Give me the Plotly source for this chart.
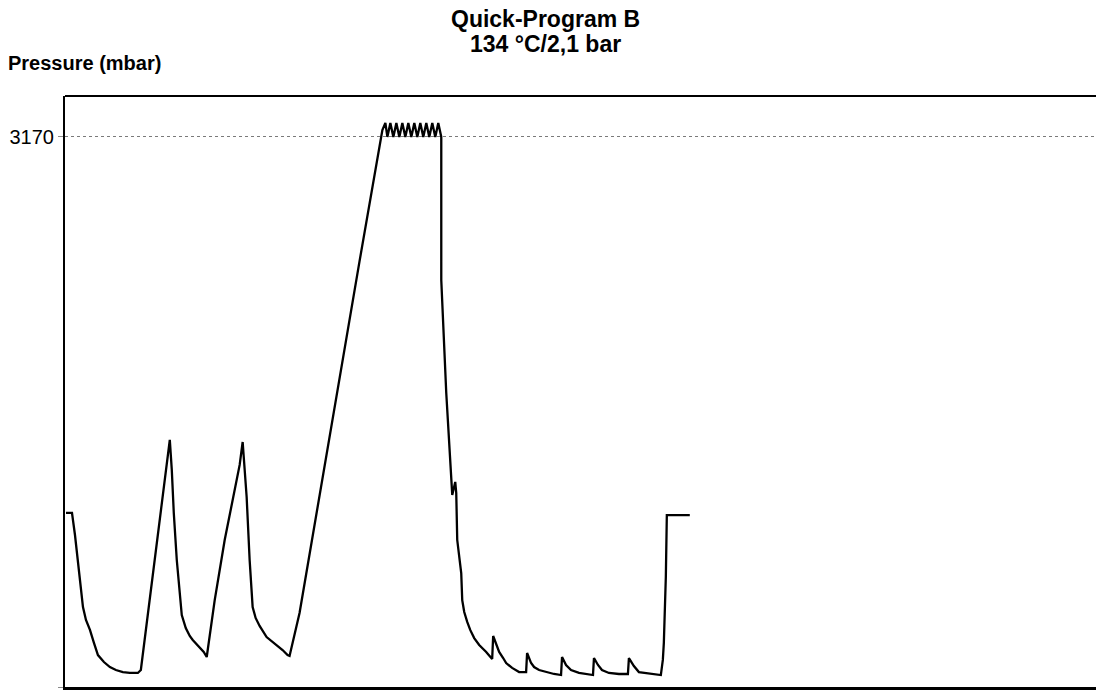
import plotly.graph_objects as go

# Time (arbitrary units, no scale shown in the reference) and pressure (mbar)
# -- first three pulses (pre-vacuum phases)
time_pulses = [0, 6, 9, 12, 14, 17, 20, 24, 28, 32, 38, 44, 50, 57, 64, 72, 75,
               84, 94, 104,
               106, 108, 111, 114, 116, 120, 124, 127, 131, 134, 138, 141,
               149, 159, 169, 174, 177,
               179, 181, 184, 187, 190, 194, 201, 206, 211, 217, 222, 224,
               234, 251, 274, 294, 317]
press_pulses = [1003, 1003, 876, 715, 588, 461, 386, 329, 254, 184, 144, 115, 98, 86, 81, 81, 98,
                501, 963, 1424,
                1251, 1003, 732, 530, 415, 340, 294, 271, 248, 231, 202, 173,
                501, 847, 1135, 1280, 1412,
                1251, 1095, 732, 461, 398, 352, 288, 265, 242, 213, 184, 179,
                427, 1003, 1769, 2450, 3210]

# -- sterilisation plateau
time_plateau = [320, 322, 325, 328, 331, 334, 337, 340, 343, 346,
                349, 352, 355, 358, 361, 364, 367, 370, 373, 376]
press_plateau = [3251, 3170, 3251, 3170, 3251, 3170, 3251, 3170, 3251, 3170,
                 3251, 3170, 3251, 3170, 3251, 3170, 3251, 3170, 3251, 3170]

# -- release and drying pulses, then venting
time_drying = [376, 381, 386, 387, 390, 391, 392, 396, 397, 399, 402, 405, 409, 414, 421, 427,
               428, 431, 434, 438, 441, 447, 454, 461,
               462, 466, 469, 474, 481, 489, 496,
               497, 501, 506, 514, 521, 528,
               529, 533, 537, 544, 554, 563,
               564, 569, 574, 581, 587, 596,
               598, 599, 601, 602, 625]
press_drying = [2346, 1694, 1153, 1107, 1182, 1118, 847, 657, 501, 432, 375, 329, 282, 242, 202, 161,
                294, 242, 202, 167, 138, 110, 86, 86,
                196, 138, 115, 98, 86, 75, 69,
                173, 127, 98, 81, 75, 69,
                167, 127, 98, 81, 75, 75,
                167, 121, 86, 81, 75, 69,
                156, 254, 634, 991, 991]

time_all = time_pulses + time_plateau + time_drying
press_all = press_pulses + press_plateau + press_drying

y_ticks = [0, 3170]
y_tick_labels = ["0", "3170"]
title_line1 = "Quick-Program B"
title_line2 = "134 °C/2,1 bar"
y_title = "Pressure (mbar)"

fig = go.Figure()
fig.add_trace(go.Scatter(x=time_all, y=press_all, mode="lines",
                         line=dict(color="black", width=2.3, shape="linear"),
                         hoverinfo="skip"))

fig.update_layout(
    width=1096, height=697,
    margin=dict(l=65, r=0, t=96, b=10, pad=0),
    plot_bgcolor="white", paper_bgcolor="white",
    showlegend=False,
    font=dict(family="Liberation Sans, Arial, sans-serif", color="black"),
    xaxis=dict(range=[-1, 1032], showline=True, linecolor="black", linewidth=3,
               showgrid=False, zeroline=False, showticklabels=False, ticks="",
               mirror=False, showspikes=False),
    yaxis=dict(range=[0, 3406], showline=True, linecolor="black", linewidth=2,
               showgrid=True, gridcolor="#7a7a7a", griddash="dot", gridwidth=1,
               zeroline=False, tickvals=y_ticks, ticktext=y_tick_labels,
               ticks="outside", ticklen=5, tickcolor="#8a8a8a", mirror=False,
               tickfont=dict(size=20)),
)
fig.add_shape(type="line", xref="paper", yref="paper", x0=0, x1=1.01, y0=1, y1=1,
              line=dict(color="black", width=2))
cx = (545 - 65) / 1031
fig.add_annotation(xref="paper", yref="paper", x=cx, y=1, yshift=96 - 19,
                   text="<b>" + title_line1 + "</b>", showarrow=False,
                   font=dict(size=23), xanchor="center", yanchor="middle")
fig.add_annotation(xref="paper", yref="paper", x=cx, y=1, yshift=96 - 44,
                   text="<b>" + title_line2 + "</b>", showarrow=False,
                   font=dict(size=23), xanchor="center", yanchor="middle")
fig.add_annotation(xref="paper", yref="paper", x=-65 / 1031, xshift=6, y=1, yshift=96 - 63,
                   text="<b>" + y_title + "</b>", showarrow=False,
                   font=dict(size=20), xanchor="left", yanchor="middle")
fig.write_html("out.html", config={"displayModeBar": False},
               post_script="document.body.style.margin='0';document.body.style.overflow='hidden';")
